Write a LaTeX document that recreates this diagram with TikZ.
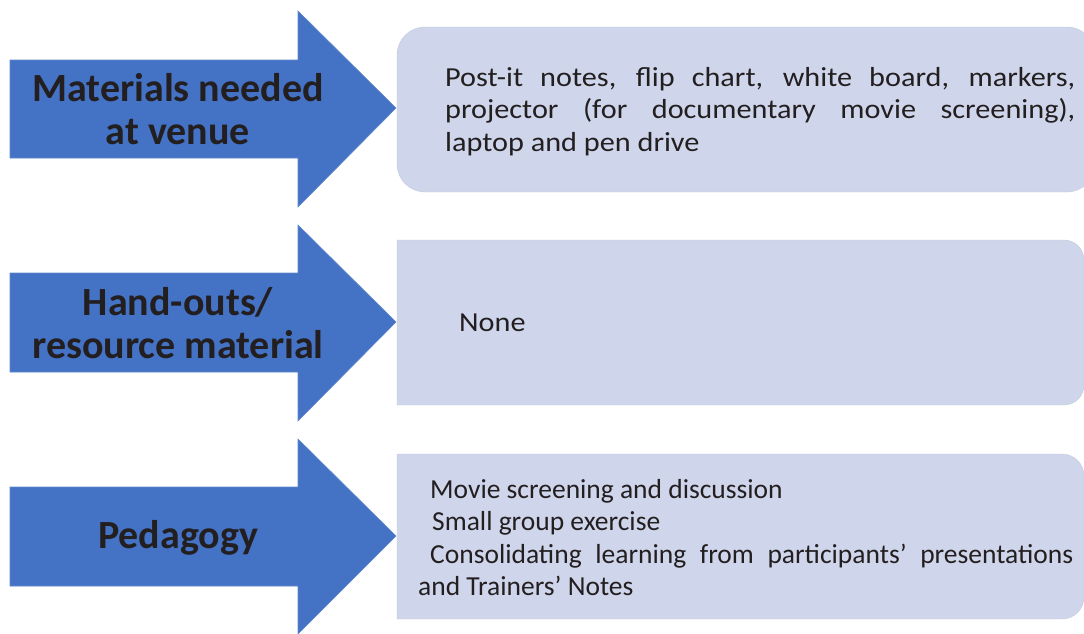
\documentclass[tikz,border=0pt]{standalone}
\usepackage{fontspec}
\setmainfont{Carlito}
\newfontfamily\widefont[FakeStretch=1.1]{Carlito}
\definecolor{arrowblue}{HTML}{4472C4}
\definecolor{boxfill}{HTML}{CFD5EA}
\definecolor{ink}{HTML}{231F20}
\begin{document}
\begin{tikzpicture}[x=1pt,y=-1pt,
  arrowshape/.style={fill=arrowblue,draw=arrowblue!85!white,line width=0.6pt},
  boxshape/.style={fill=boxfill,draw=boxfill!95!black,line width=0.4pt},
  label/.style={font=\fontsize{40}{43}\selectfont\bfseries,text=ink,align=center,inner sep=0pt},
  boxtext/.style={font=\fontsize{27.5}{32.5}\selectfont,text=ink,align=justify,inner sep=0pt,anchor=north west},
  widetext/.style={boxtext,font=\fontsize{27.5}{32.5}\widefont}]
\useasboundingbox (0,0) rectangle (1084,633);
\begin{scope}
\clip (0,0) rectangle (1084,633);
% boxes
\path[boxshape,rounded corners=28pt] (397,27) rectangle (1095,192);
\path[boxshape] (397,240) -- (1064,240) arc[start angle=-90,end angle=0,radius=20] -- (1084,385) arc[start angle=0,end angle=90,radius=20] -- (397,405) -- cycle;
\path[boxshape] (397,454) -- (1062,454) arc[start angle=-90,end angle=0,radius=22] -- (1084,597) arc[start angle=0,end angle=90,radius=22] -- (397,619) -- cycle;
% arrows
\path[arrowshape] (10,60) -- (298,60) -- (298,11) -- (396,108) -- (298,207) -- (298,158) -- (10,158) -- cycle;
\path[arrowshape] (10,273) -- (298,273) -- (298,225) -- (396,322) -- (298,421) -- (298,372) -- (10,372) -- cycle;
\path[arrowshape] (10,487) -- (298,487) -- (298,439) -- (396,536) -- (298,634) -- (298,586) -- (10,586) -- cycle;
\end{scope}
% labels
\node[label] (l1) at (178,109) {Materials needed\\at venue};
\node[label] (l2) at (178,323) {Hand-outs/\\resource material};
\node[label] (l3) at (178,538) {Pedagogy};
% box texts
\node[widetext,text width=630pt] (t1) at (445,67) {Post-it notes, flip chart, white board, markers,\linebreak projector (for documentary movie screening),\linebreak laptop and pen drive};
\node[widetext,anchor=west] (t2) at (459,323) {None};
\node[boxtext,text width=655pt] (t3) at (418,479) {\hspace*{12pt}Movie screening and discussion\\
\hspace*{14pt}Small group exercise\\
\hspace*{12pt}Consolidating learning from participants’ presentations\linebreak and Trainers’ Notes};
\end{tikzpicture}
\end{document}
